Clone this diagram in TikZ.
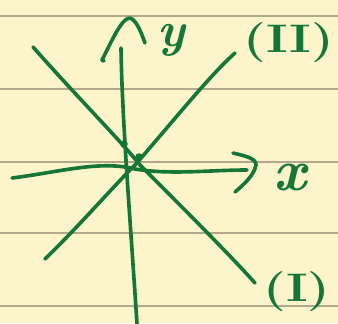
\documentclass[tikz,border=0pt]{standalone}
\usepackage{tikz}
\usetikzlibrary{calc}
\definecolor{paper}{RGB}{252,245,204}
\definecolor{rule}{RGB}{180,168,140}
\definecolor{ink}{RGB}{22,118,56}
\begin{document}
\begin{tikzpicture}[x=0.03cm,y=-0.03cm]
\tikzstyle{pen}=[draw=ink,line width=3.1pt,line cap=round,line join=round]
\tikzstyle{lbl}=[text=ink,inner sep=0pt,font=\fontsize{34}{34}\selectfont\bfseries]
\fill[paper] (0,0) rectangle (338,323);
\useasboundingbox (0,0) rectangle (338,323);
% ruled lines of the paper
\foreach \y in {16,89,162,233,306} \draw[rule,line width=1.2pt] (0,\y) -- (338,\y);
% axes
\coordinate (ytop) at (121,48); \coordinate (ybot) at (137,324);
\coordinate (xl) at (12,178); \coordinate (xr) at (247,170);
\draw[pen] (ybot) .. controls (131,230) and (122,120) .. (ytop);
\draw[pen] (xl) .. controls (60,172) and (100,160) .. (135,169) .. controls (170,175) and (210,170) .. (xr);
\draw[pen] (104,61) -- (102,60) .. controls (110,45) and (121,18) .. (130,18) .. controls (137,20) and (142,35) .. (145,43);
\draw[pen] (233,153) .. controls (245,156) and (256,158) .. (256,165) .. controls (254,176) and (242,186) .. (235,192);
\node[lbl,anchor=base,font=\fontsize{42}{42}\selectfont\bfseries\itshape] (ylab) at (171,46) {y};
\node[lbl,anchor=base,font=\fontsize{50}{50}\selectfont\bfseries\itshape] (xlab) at (290,190) {x};
% the two lines
\coordinate (a1) at (33,47); \coordinate (a2) at (255,283);
\coordinate (b1) at (45,259); \coordinate (b2) at (235,53);
\draw[pen] (a1) .. controls (80,100) and (120,140) .. (140,165) .. controls (180,205) and (230,255) .. (a2);
\draw[pen] (b1) .. controls (80,225) and (110,190) .. (135,165) .. controls (170,125) and (210,75) .. (b2);
\node[lbl] (l1) at (297,292) {\scalebox{1.3}[1]{(I)}};
\node[lbl] (l2) at (289,43) {\scalebox{1.3}[1]{(II)}};
% marked points
\fill[ink] (124,144) circle (3.8);
\fill[ink] (139,157) circle (3.8);
\end{tikzpicture}
\end{document}
